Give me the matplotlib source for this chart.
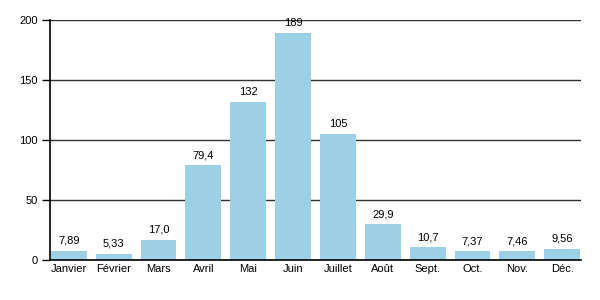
import matplotlib.pyplot as plt
import numpy as np

plt.rcParams['font.family'] = ['Liberation Sans', 'DejaVu Sans']

months = ['Janvier', 'Février', 'Mars', 'Avril', 'Mai', 'Juin',
          'Juillet', 'Août', 'Sept.', 'Oct.', 'Nov.', 'Déc.']
values = [7.89, 5.33, 17.0, 79.4, 132, 189, 105, 29.9, 10.7, 7.37, 7.46, 9.56]
value_labels = ['7,89', '5,33', '17,0', '79,4', '132', '189',
                '105', '29,9', '10,7', '7,37', '7,46', '9,56']
y_ticks = [0, 50, 100, 150, 200]

fig = plt.figure(figsize=(6, 3), dpi=100)
ax = fig.add_axes([0.0833, 0.133, 0.885, 0.8])

x = np.arange(len(months))
ax.bar(x, values, width=0.8, color='#9dcfe7', zorder=2)

for xi, v, lab in zip(x, values, value_labels):
    ax.text(xi, v + 4, lab, ha='center', va='bottom', fontsize=8, color='black')

ax.set_xlim(-0.42, len(months) - 0.58)
ax.set_ylim(0, 200)
ax.set_yticks(y_ticks)
ax.set_xticks(x)
ax.set_xticklabels(months)
ax.tick_params(axis='x', length=0, pad=3, labelsize=8)
ax.tick_params(axis='y', length=6, width=1, pad=3, labelsize=8)
ax.yaxis.grid(True, color='#333333', linewidth=1, zorder=1)
ax.set_axisbelow(True)

for s in ['top', 'right']:
    ax.spines[s].set_visible(False)
ax.spines['left'].set_linewidth(1.2)
ax.spines['bottom'].set_linewidth(1.2)
ax.spines['bottom'].set_zorder(3)

plt.savefig('out.png', dpi=100)
